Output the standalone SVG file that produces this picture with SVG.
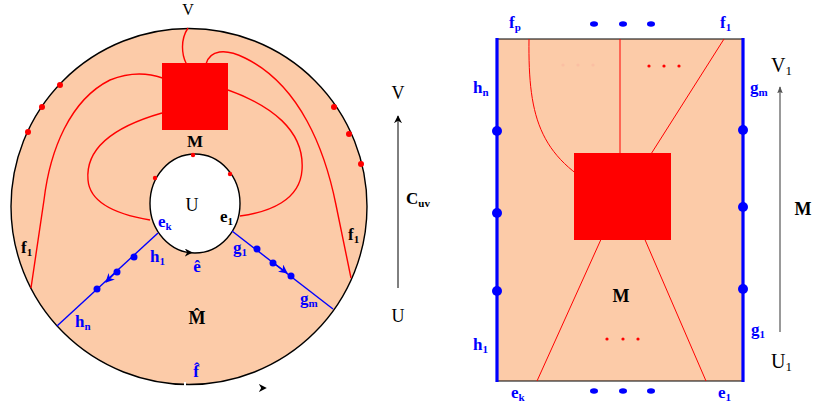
<svg xmlns="http://www.w3.org/2000/svg" width="815" height="406" viewBox="0 0 815 406">
<defs>
<marker id="ah" viewBox="0 0 10 10" refX="9" refY="5" markerWidth="8" markerHeight="8" orient="auto" markerUnits="userSpaceOnUse"><path d="M0,0 L10,5 L0,10 L3,5 z" fill="#000"/></marker>
<marker id="ab" viewBox="0 0 10 10" refX="9" refY="5" markerWidth="9" markerHeight="9" orient="auto" markerUnits="userSpaceOnUse"><path d="M0,0 L10,5 L0,10 L3,5 z" fill="#00f"/></marker>
<marker id="ag" viewBox="0 0 10 10" refX="9" refY="5" markerWidth="7" markerHeight="7" orient="auto" markerUnits="userSpaceOnUse"><path d="M0,1 L10,5 L0,9 L2,5 z" fill="#555"/></marker>
</defs>
<style>
.t{font-family:"Liberation Serif",serif;font-size:17px;font-weight:bold}
.n{font-family:"Liberation Serif",serif;font-size:18px}
.b{fill:#00f}
.k{fill:#000}
.s{font-size:11px}
.rc{fill:none;stroke:#f00;stroke-width:1.4}
.rl{fill:none;stroke:#f00;stroke-width:1}
.bl{fill:none;stroke:#00f;stroke-width:1.4}
.rd{fill:#f00}
.bd{fill:#00f}
</style>
<rect width="815" height="406" fill="#fff"/>

<g id="disk">
<circle cx="189" cy="206.5" r="178" fill="#fccba8" stroke="#000" stroke-width="1.4"/>
<rect x="184" y="382" width="2" height="6" fill="#fff"/>
<ellipse cx="195" cy="203.5" rx="45" ry="49.5" fill="#fff" stroke="#000" stroke-width="1.4"/>
</g>

<g id="connectors">
<path class="rc" d="M188,28 C180,40 182,55 186,63 L195,85"/>
<path class="rc" d="M200,85 L206,64 C210,50 225,48 245,58 C300,85 325,150 336,205 L351,278"/>
<path class="rc" d="M185,90 C160,72 135,70 110,80 C70,100 50,150 44,200 L31,288"/>
<path class="rc" d="M162,113 C120,125 85,145 88,180 C90,205 120,215 150,220"/>
<path class="rc" d="M228,90 C270,105 305,130 302,170 C300,200 270,212 240,216"/>
<line class="bl" x1="158" y1="233" x2="57" y2="326"/>
<line class="bl" x1="118" y1="270" x2="106" y2="282" marker-end="url(#ab)"/>
<line class="bl" x1="232" y1="231" x2="333" y2="309"/>
<line class="bl" x1="275" y1="264" x2="287" y2="273" marker-end="url(#ab)"/>
<path d="M183,252.5 L192,252.5" stroke="none" marker-end="url(#ah)"/>
<path d="M255,388 L266,388" stroke="none" marker-end="url(#ah)"/>
<line x1="398" y1="288" x2="398" y2="116" stroke="#000" stroke-width="1" marker-end="url(#ah)"/>
<line x1="780" y1="332" x2="780" y2="87" stroke="#555" stroke-width="1.2" marker-end="url(#ag)"/>
</g>

<g id="disk-square"><rect x="162" y="63" width="66" height="67" fill="#f00"/></g>

<g id="disk-dots">
<circle class="rd" cx="60" cy="85" r="3"/><circle class="rd" cx="42" cy="107" r="3"/><circle class="rd" cx="28" cy="132" r="3"/>
<circle class="rd" cx="334" cy="107" r="3"/><circle class="rd" cx="349" cy="134" r="3"/><circle class="rd" cx="361" cy="164" r="3"/>
<circle class="rd" cx="193" cy="155" r="2.2"/><circle class="rd" cx="155" cy="178" r="2.2"/><circle class="rd" cx="230" cy="174" r="2.2"/>
<circle class="bd" cx="134" cy="257" r="3.5"/><circle class="bd" cx="117" cy="272" r="3.5"/><circle class="bd" cx="97" cy="289" r="3.5"/>
<circle class="bd" cx="257" cy="249" r="3.5"/><circle class="bd" cx="273" cy="263" r="3.5"/><circle class="bd" cx="291" cy="276" r="3.5"/>
</g>

<g id="disk-labels">
<text class="n k" x="188" y="15" text-anchor="middle" style="font-size:16px">V</text>
<text class="t k" x="195" y="147" text-anchor="middle">M</text>
<text class="n k" x="192" y="211" text-anchor="middle">U</text>
<text class="t b" x="158" y="227">e<tspan class="s" dy="3">k</tspan></text>
<text class="t k" x="220" y="222">e<tspan class="s" dy="3">1</tspan></text>
<text class="t b" x="150" y="262">h<tspan class="s" dy="3">1</tspan></text>
<text class="t b" x="197" y="272" text-anchor="middle">ê</text>
<text class="t b" x="233" y="253">g<tspan class="s" dy="3">1</tspan></text>
<text class="t b" x="300" y="304">g<tspan class="s" dy="3">m</tspan></text>
<text class="t b" x="75" y="327">h<tspan class="s" dy="3">n</tspan></text>
<text class="t k" x="197" y="324" text-anchor="middle" style="font-size:18px">M̂</text>
<text class="t b" x="196" y="377" text-anchor="middle">f̂</text>
<text class="t k" x="21" y="253">f<tspan class="s" dy="3">1</tspan></text>
<text class="t k" x="348" y="240">f<tspan class="s" dy="3">1</tspan></text>
<text class="n k" x="398" y="99" text-anchor="middle">V</text>
<text class="n k" x="398" y="322" text-anchor="middle">U</text>
<text class="t k" x="406" y="204">C<tspan class="s" dy="3">uv</tspan></text>
</g>

<g id="rect">
<rect x="497" y="39" width="247" height="342" fill="#fccba8"/>
<line x1="497" y1="39" x2="744" y2="39" stroke="#000" stroke-width="1.2"/>
<line x1="497" y1="381" x2="744" y2="381" stroke="#000" stroke-width="1.2"/>
<line x1="497" y1="38" x2="497" y2="382" stroke="#00f" stroke-width="3.2"/>
<line x1="743" y1="38" x2="743" y2="382" stroke="#00f" stroke-width="3.2"/>
</g>

<g id="rect-lines">
<path class="rl" d="M529,39 C528,120 540,160 612,195"/>
<line class="rl" x1="620" y1="39" x2="620" y2="195"/>
<line class="rl" x1="724" y1="39" x2="625" y2="195"/>
<line class="rl" x1="537" y1="381" x2="612" y2="215"/>
<line class="rl" x1="706" y1="381" x2="630" y2="205"/>
</g>

<g id="rect-square"><rect x="574" y="153" width="97" height="87" fill="#f00"/></g>

<g id="rect-dots">
<circle class="bd" cx="497" cy="131" r="5"/><circle class="bd" cx="497" cy="213" r="5"/><circle class="bd" cx="497" cy="291" r="5"/>
<circle class="bd" cx="743" cy="130" r="5"/><circle class="bd" cx="743" cy="207" r="5"/><circle class="bd" cx="743" cy="289" r="5"/>
<ellipse class="bd" cx="594" cy="24" rx="4" ry="2.8"/><ellipse class="bd" cx="623" cy="24" rx="4" ry="2.8"/><ellipse class="bd" cx="651" cy="24" rx="4" ry="2.8"/>
<ellipse class="bd" cx="594" cy="391" rx="4" ry="2.8"/><ellipse class="bd" cx="623" cy="391" rx="4" ry="2.8"/><ellipse class="bd" cx="651" cy="391" rx="4" ry="2.8"/>
<circle cx="563" cy="65" r="1.6" fill="#fbbfa3"/><circle cx="578" cy="65" r="1.6" fill="#fbbfa3"/><circle cx="593" cy="65" r="1.6" fill="#fbbfa3"/>
<circle class="rd" cx="649" cy="66" r="1.6"/><circle class="rd" cx="664" cy="66" r="1.6"/><circle class="rd" cx="679" cy="66" r="1.6"/>
<circle class="rd" cx="607" cy="339" r="1.6"/><circle class="rd" cx="623" cy="339" r="1.6"/><circle class="rd" cx="638" cy="339" r="1.6"/>
</g>

<g id="rect-labels">
<text class="t b" x="509" y="28">f<tspan class="s" dy="3">p</tspan></text>
<text class="t b" x="720" y="28">f<tspan class="s" dy="3">1</tspan></text>
<text class="t b" x="473" y="93">h<tspan class="s" dy="3">n</tspan></text>
<text class="t b" x="750" y="93">g<tspan class="s" dy="3">m</tspan></text>
<text class="n k" x="771" y="72" style="font-size:20px">V<tspan dy="3" style="font-size:13px">1</tspan></text>
<text class="t k" x="803" y="215" text-anchor="middle" style="font-size:18px">M</text>
<text class="t k" x="621" y="302" text-anchor="middle" style="font-size:18px">M</text>
<text class="t b" x="473" y="350">h<tspan class="s" dy="3">1</tspan></text>
<text class="t b" x="751" y="335">g<tspan class="s" dy="3">1</tspan></text>
<text class="n k" x="771" y="368" style="font-size:20px">U<tspan dy="3" style="font-size:13px">1</tspan></text>
<text class="t b" x="511" y="398">e<tspan class="s" dy="3">k</tspan></text>
<text class="t b" x="718" y="398">e<tspan class="s" dy="3">1</tspan></text>
</g>
</svg>
